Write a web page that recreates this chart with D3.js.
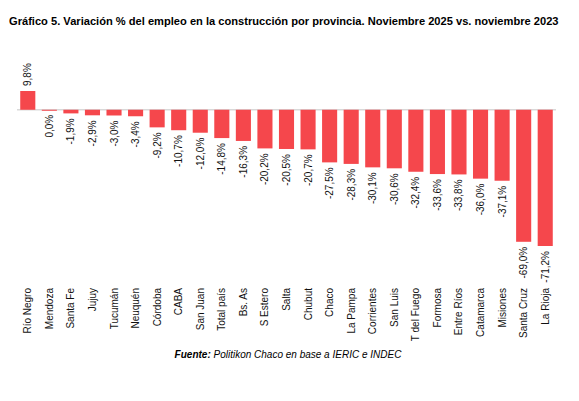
<!DOCTYPE html><html><head><meta charset="utf-8"><script src="https://cdn.jsdelivr.net/npm/d3@7"></script>
<style>body{margin:0;background:#fff}text{font-family:"Liberation Sans",Arial,sans-serif}</style></head><body>
<svg id="c" width="579" height="401"></svg>
<script>
const categories=["Río Negro","Mendoza","Santa Fe","Jujuy","Tucumán","Neuquén","Córdoba","CABA","San Juan","Total país","Bs. As","S Estero","Salta","Chubut","Chaco","La Pampa","Corrientes","San Luis","T del Fuego","Formosa","Entre Ríos","Catamarca","Misiones","Santa Cruz","La Rioja"];
const values=[9.8,0.0,-1.9,-2.9,-3.0,-3.4,-9.2,-10.7,-12.0,-14.8,-16.3,-20.2,-20.5,-20.7,-27.5,-28.3,-30.1,-30.6,-32.4,-33.6,-33.8,-36.0,-37.1,-69.0,-71.2];
const svg=d3.select("#c");
const x=d3.scaleBand().domain(categories).range([17,556]).paddingInner(0.3).paddingOuter(0.15);
const y=d3.scaleLinear().domain([-71.2,9.8]).range([246,91]);
const t=svg.append("text").attr("x",9).attr("y",25).attr("font-size",12).attr("font-weight","bold").style("font-family","'Liberation Sans Narrow','Liberation Sans',Arial,sans-serif")
 .text("Gráfico 5. Variación % del empleo en la construcción por provincia. Noviembre 2025 vs. noviembre 2023");
const w=t.node().getComputedTextLength();
if(w>550) t.attr("font-size",12*550/w);
svg.append("line").attr("x1",17).attr("x2",556).attr("y1",y(0)).attr("y2",y(0)).attr("stroke","#d9d9d9").attr("stroke-width",1.5);
svg.selectAll("rect").data(values).join("rect").attr("x",(d,i)=>x(categories[i])).attr("width",x.bandwidth())
 .attr("y",d=>y(Math.max(0,d))).attr("height",d=>Math.max(1,Math.abs(y(d)-y(0)))).attr("fill","#f5474c");
svg.selectAll("text.v").data(values).join("text").attr("class","v").attr("font-size",10).attr("fill","#111")
 .attr("transform",(d,i)=>{const cx=x(categories[i])+x.bandwidth()/2+3.5;const yy=d>0?y(d)-5:y(d)+5;return `translate(${cx},${yy}) rotate(-90)`})
 .attr("text-anchor",d=>d>0?"start":"end").text(d=>d.toFixed(1).replace(".",",")+"%");
svg.selectAll("text.c").data(categories).join("text").attr("class","c").attr("font-size",10).attr("fill","#111")
 .attr("transform",(d)=>`translate(${x(d)+x.bandwidth()/2+3.5},288) rotate(-90)`).attr("text-anchor","end").text(d=>d);
const s=svg.append("text").attr("x",288).attr("y",358).attr("text-anchor","middle").attr("font-size",10).attr("font-style","italic");
s.append("tspan").attr("font-weight","bold").text("Fuente:");
s.append("tspan").text(" Politikon Chaco en base a IERIC e INDEC");
</script></body></html>
